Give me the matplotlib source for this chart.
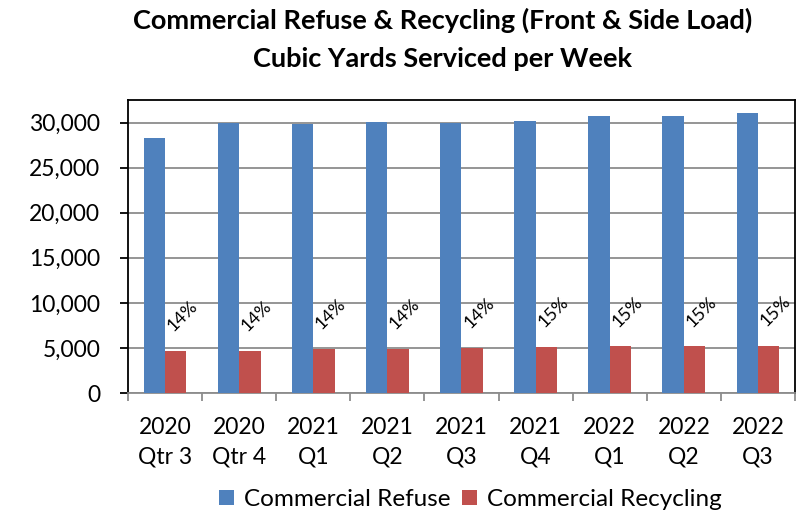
import matplotlib
matplotlib.use("Agg")
import matplotlib.pyplot as plt
import numpy as np

# values
quarters = ["2020\nQtr 3", "2020\nQtr 4", "2021\nQ1", "2021\nQ2", "2021\nQ3",
            "2021\nQ4", "2022\nQ1", "2022\nQ2", "2022\nQ3"]
refuse = [28330, 29930, 29820, 30040, 29930, 30220, 30700, 30700, 31080]
recycling = [4630, 4640, 4880, 4880, 4990, 5100, 5180, 5180, 5210]
pct_labels = ["14%", "14%", "14%", "14%", "14%", "15%", "15%", "15%", "15%"]

plt.rcParams['font.family'] = ['Lato', 'DejaVu Sans']

blue = '#4F81BD'
red = '#C0504D'

fig = plt.figure(figsize=(8, 5.14), dpi=100)
ax = fig.add_axes([0.16, 0.2354, 0.83375, 0.57])

x = np.arange(len(quarters))
w = 0.288
ax.bar(x - w / 2, refuse, w, color=blue, label='Commercial Refuse', zorder=3)
bars = ax.bar(x + w / 2, recycling, w, color=red, label='Commercial Recycling', zorder=3)

# rotated share labels above the recycling bars
for b, lab in zip(bars, pct_labels):
    ax.annotate(lab, (b.get_x() + b.get_width() / 2, b.get_height()),
                xytext=(0, 12), textcoords='offset points',
                rotation=45, rotation_mode='anchor', ha='left', va='bottom',
                fontsize=13)

ax.set_xlim(-0.5, len(quarters) - 0.5)
ax.set_ylim(0, 32500)
ax.set_yticks(range(0, 30001, 5000))
ax.set_yticklabels([f"{v:,}" for v in range(0, 30001, 5000)], fontsize=16.5)
ax.yaxis.grid(True, color='#8c8c8c', linewidth=1.3, zorder=0)

ax.set_xticks(x)
ax.set_xticklabels(quarters, fontsize=16.5, linespacing=1.55)
ax.set_xticks(np.arange(-0.5, len(quarters)), minor=True)
ax.tick_params(axis='x', which='major', length=0, pad=17)
ax.tick_params(axis='x', which='minor', length=6, color='#8c8c8c', width=1.3)
ax.tick_params(axis='y', length=6, width=1.3, pad=14)

for s in ['top', 'right', 'left']:
    ax.spines[s].set_color('black')
    ax.spines[s].set_linewidth(1.3)
ax.spines['bottom'].set_color('#8c8c8c')
ax.spines['bottom'].set_linewidth(1.3)

fig.suptitle("Commercial Refuse & Recycling (Front & Side Load)\nCubic Yards Serviced per Week",
             x=0.553, y=0.985, fontsize=19.5, fontweight='bold', linespacing=1.7)

fig.legend(loc='lower center', bbox_to_anchor=(0.588, -0.035), ncol=2, frameon=False,
           fontsize=17.5, handlelength=0.6, handleheight=0.6, handletextpad=0.4,
           columnspacing=0.5)

fig.savefig("out.png", dpi=100)
